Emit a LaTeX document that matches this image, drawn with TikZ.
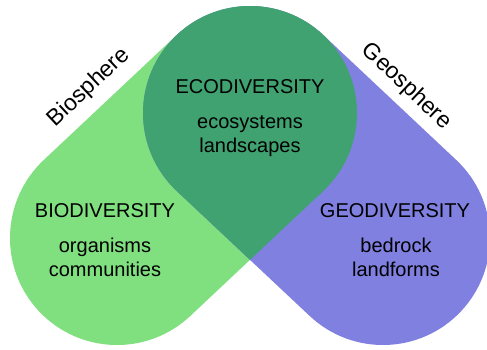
\documentclass[tikz,border=0pt]{standalone}
\usepackage{fontspec}
\setmainfont{Liberation Sans}
\usetikzlibrary{calc}
\definecolor{biogreen}{RGB}{128,224,128}
\definecolor{ecogreen}{RGB}{64,162,112}
\definecolor{geoblue}{RGB}{128,128,224}

\begin{document}
\begin{tikzpicture}[x=1pt,y=1pt]
\tikzset{font=\fontsize{20}{24}\selectfont}
\tikzset{title/.style={anchor=base, inner sep=0pt}}
\tikzset{body/.style={anchor=base, align=center, inner sep=0pt}}
\tikzset{sphere/.style={font=\fontsize{23}{27}\selectfont, inner sep=0pt}}
\tikzset{band/.style={line width=214pt, line cap=round}}
\fill[white] (0,0) rectangle (487,349);
\useasboundingbox (0,0) rectangle (487,349);
\coordinate (bio) at (117,111);
\coordinate (top) at (250,236);
\coordinate (geo) at (383,111);
\draw[band, biogreen] (bio) -- (top);
\draw[band, geoblue] (geo) -- (top);
% overlap of the two bands
\fill[ecogreen] (top) circle (107);
\fill[ecogreen] ($(top)+(-46.8:107)$) -- ($(top)+(0,-146.8)$) -- ($(top)+(226.8:107)$) -- (top) -- cycle;
\node[title] (ecotitle) at (250,256) {ECODIVERSITY};
\node[body] (ecotext) at (250,197) {ecosystems\\landscapes};
\node[title] (biotitle) at (105,132) {BIODIVERSITY};
\node[body] (biotext) at (105,72.3) {organisms\\communities};
\node[title] (geotitle) at (395,132) {GEODIVERSITY};
\node[body] (geotext) at (396,72.3) {bedrock\\landforms};
\node[sphere, rotate=43.2] (biosphere) at (89,261.5) {Biosphere};
\node[sphere, rotate=-43.2] (geosphere) at (406.5,262.5) {Geosphere};
\end{tikzpicture}
\end{document}
